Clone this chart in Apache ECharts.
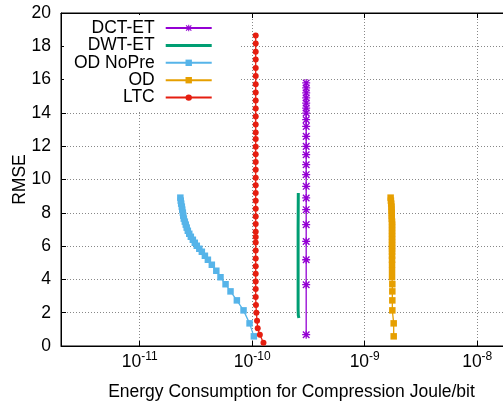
<!DOCTYPE html>
<html>
<head>
<meta charset="utf-8">
<script src="https://cdn.jsdelivr.net/npm/echarts@6/dist/echarts.min.js"></script>
<style>
  html, body { margin: 0; padding: 0; background: #fff; }
  #chart { width: 503px; height: 405px; }
</style>
</head>
<body>
<div id="chart"></div>
<script>
// Energy (Joule/bit) vs. RMSE for each compression scheme
const seriesNames = ['DCT-ET', 'DWT-ET', 'OD NoPre', 'OD', 'LTC'];

const dctEnergy = [3.02e-10, 3.02e-10, 3.02e-10, 3.02e-10, 3.02e-10, 3.02e-10, 3.02e-10, 3.02e-10,
  3.02e-10, 3.02e-10, 3.02e-10, 3.02e-10, 3.02e-10, 3.02e-10, 3.02e-10, 3.02e-10, 3.02e-10,
  3.02e-10, 3.02e-10, 3.02e-10, 3.02e-10, 3.02e-10];
const dctRmse = [15.80, 15.50, 15.20, 14.90, 14.59, 14.29, 13.99, 13.59, 13.19, 12.59, 11.99,
  11.49, 10.89, 10.29, 9.59, 8.89, 8.19, 7.29, 6.28, 5.18, 3.68, 0.68];

const dwtEnergy = [2.57e-10, 2.56e-10, 2.56e-10, 2.56e-10, 2.57e-10, 2.60e-10];
const dwtRmse = [9.19, 7.00, 4.50, 2.20, 1.85, 1.68];

const noPreEnergy = [2.30e-11, 2.32e-11, 2.34e-11, 2.37e-11, 2.39e-11, 2.42e-11, 2.44e-11, 2.47e-11,
  2.52e-11, 2.57e-11, 2.62e-11, 2.68e-11, 2.76e-11, 2.85e-11, 2.97e-11, 3.09e-11, 3.22e-11,
  3.39e-11, 3.57e-11, 3.80e-11, 4.04e-11, 4.38e-11, 4.80e-11, 5.23e-11, 5.80e-11, 6.42e-11,
  7.31e-11, 8.38e-11, 9.48e-11, 1.035e-10];
const noPreRmse = [8.91, 8.73, 8.55, 8.37, 8.19, 8.01, 7.83, 7.65, 7.47, 7.29, 7.11, 6.92, 6.74,
  6.56, 6.38, 6.20, 6.02, 5.84, 5.66, 5.42, 5.18, 4.88, 4.52, 4.13, 3.71, 3.28, 2.74, 2.14,
  1.36, 0.58];

const odEnergy = [1.70e-9, 1.71e-9, 1.72e-9, 1.73e-9, 1.73e-9, 1.74e-9, 1.74e-9, 1.74e-9, 1.75e-9,
  1.75e-9, 1.75e-9, 1.75e-9, 1.75e-9, 1.75e-9, 1.75e-9, 1.75e-9, 1.75e-9, 1.75e-9, 1.75e-9,
  1.75e-9, 1.75e-9, 1.75e-9, 1.75e-9, 1.75e-9, 1.76e-9, 1.76e-9, 1.76e-9, 1.76e-9, 1.81e-9,
  1.81e-9];
const odRmse = [8.91, 8.73, 8.55, 8.37, 8.19, 8.01, 7.83, 7.65, 7.47, 7.29, 7.11, 6.92, 6.74,
  6.56, 6.38, 6.20, 6.02, 5.84, 5.66, 5.42, 5.18, 4.88, 4.52, 4.13, 3.71, 3.28, 2.74, 2.14,
  1.36, 0.58];

const ltcEnergy = [1.075e-10, 1.075e-10, 1.075e-10, 1.075e-10, 1.075e-10, 1.075e-10, 1.075e-10,
  1.075e-10, 1.075e-10, 1.075e-10, 1.075e-10, 1.075e-10, 1.075e-10, 1.075e-10, 1.075e-10,
  1.075e-10, 1.075e-10, 1.075e-10, 1.075e-10, 1.075e-10, 1.075e-10, 1.075e-10, 1.075e-10,
  1.075e-10, 1.075e-10, 1.075e-10, 1.075e-10, 1.075e-10, 1.075e-10, 1.075e-10, 1.075e-10,
  1.075e-10, 1.075e-10, 1.075e-10, 1.075e-10, 1.08e-10, 1.09e-10, 1.105e-10, 1.12e-10,
  1.17e-10, 1.26e-10];
const ltcRmse = [18.65, 18.17, 17.68, 17.20, 16.70, 16.22, 15.72, 15.22, 14.74, 14.26, 13.78,
  13.30, 12.83, 12.43, 11.97, 11.51, 11.05, 10.59, 10.11, 9.65, 9.19, 8.73, 8.25, 7.78, 7.33,
  6.86, 6.54, 6.22, 5.74, 5.26, 4.79, 4.34, 3.88, 3.42, 2.94, 2.46, 2.00, 1.52, 1.06, 0.68,
  0.20];

const yTicks = [0, 2, 4, 6, 8, 10, 12, 14, 16, 18, 20];
const xRange = [2e-12, 2.5e-8];

const colors = {
  'DCT-ET': '#9400d3',
  'DWT-ET': '#009e73',
  'OD NoPre': '#56b4e9',
  'OD': '#e69f00',
  'LTC': '#e51e10'
};

// asterisk marker: plus overlaid with a cross
const asterisk = 'path://M4.2 0L5.8 0L5.8 10L4.2 10Z M0 4.2L10 4.2L10 5.8L0 5.8Z ' +
  'M0.3 1.5L1.5 0.3L9.7 8.5L8.5 9.7Z M8.5 0.3L9.7 1.5L1.5 9.7L0.3 8.5Z';
// plain thick stroke for the marker-less series key
const thickBar = 'path://M0 0L46 0L46 3L0 3Z';

function pairs(xs, ys) {
  return xs.map((x, i) => [x, ys[i]]);
}

const FONT = 'Liberation Sans, Arial, sans-serif';
const FS = 17.5;

function expLabel(v) {
  const lg = Math.log10(v);
  const e = Math.round(lg);
  if (Math.abs(lg - e) > 1e-6) return '';
  return '{b|10}{s|' + e + '}';
}

const chart = echarts.init(document.getElementById('chart'), null, { renderer: 'canvas' });

chart.setOption({
  animation: false,
  backgroundColor: '#ffffff',
  textStyle: { fontFamily: FONT },
  grid: {
    left: 61, width: 461, top: 13, bottom: 59,
    containLabel: false,
    outerBoundsMode: 'none',
    show: true, borderColor: '#000', borderWidth: 1, backgroundColor: 'transparent'
  },
  legend: {
    orient: 'vertical',
    align: 'right',
    left: 64,
    top: 15,
    padding: [4, 27, 4, 10],
    backgroundColor: '#ffffff',
    itemWidth: 46,
    itemHeight: 8,
    itemGap: -0.6,
    data: [
      { name: 'DCT-ET' },
      { name: 'DWT-ET', icon: thickBar },
      { name: 'OD NoPre' },
      { name: 'OD' },
      { name: 'LTC' }
    ],
    textStyle: { fontSize: FS, color: '#000', fontFamily: FONT, padding: [0, 6, 0, 0] }
  },
  xAxis: [{
    type: 'log',
    logBase: 10,
    min: xRange[0],
    max: xRange[1],
    name: 'Energy Consumption for Compression Joule/bit',
    nameLocation: 'middle',
    nameGap: 37,
    nameMoveOverlap: false,
    nameTextStyle: { fontSize: FS, color: '#000', fontFamily: FONT },
    axisLine: { show: true, lineStyle: { color: '#000', width: 1 } },
    axisTick: { show: true, inside: true, length: 5, lineStyle: { color: '#000' } },
    minorTick: { show: false },
    axisLabel: {
      showMinLabel: false,
      showMaxLabel: false,
      margin: 5,
      color: '#000',
      formatter: expLabel,
      rich: {
        b: { fontSize: FS, color: '#000', fontFamily: FONT },
        s: { fontSize: 12, color: '#000', fontFamily: FONT, padding: [0, 0, 10, 0] }
      }
    },
    splitLine: { show: true, lineStyle: { color: '#888', type: [1, 2], width: 1 } }
  }, {
    type: 'log',
    logBase: 10,
    min: xRange[0],
    max: xRange[1],
    position: 'top',
    axisLine: { show: true, lineStyle: { color: '#000', width: 1 } },
    axisTick: { show: true, inside: true, length: 5, lineStyle: { color: '#000' } },
    axisLabel: { show: false },
    splitLine: { show: false }
  }],
  yAxis: {
    type: 'value',
    min: yTicks[0],
    max: yTicks[yTicks.length - 1],
    interval: 2,
    name: 'RMSE',
    nameLocation: 'middle',
    nameGap: 32,
    nameMoveOverlap: false,
    nameTextStyle: { fontSize: FS, color: '#000', fontFamily: FONT },
    axisLine: { show: true, lineStyle: { color: '#000', width: 1 } },
    axisTick: { show: true, inside: true, length: 5, lineStyle: { color: '#000' } },
    axisLabel: { fontSize: FS, color: '#000', margin: 10, fontFamily: FONT },
    splitLine: { show: true, lineStyle: { color: '#888', type: [1, 2], width: 1 } }
  },
  series: [
    {
      name: 'DCT-ET', type: 'line', xAxisIndex: 0,
      data: pairs(dctEnergy, dctRmse),
      symbol: asterisk, symbolSize: 8, showAllSymbol: true,
      lineStyle: { color: colors['DCT-ET'], width: 1.3 },
      itemStyle: { color: colors['DCT-ET'] }
    },
    {
      name: 'DWT-ET', type: 'line', xAxisIndex: 0,
      data: pairs(dwtEnergy, dwtRmse),
      symbol: 'none',
      lineStyle: { color: colors['DWT-ET'], width: 3 },
      itemStyle: { color: colors['DWT-ET'] }
    },
    {
      name: 'OD NoPre', type: 'line', xAxisIndex: 0,
      data: pairs(noPreEnergy, noPreRmse),
      symbol: 'rect', symbolSize: 6.5, showAllSymbol: true,
      lineStyle: { color: colors['OD NoPre'], width: 1.3 },
      itemStyle: { color: colors['OD NoPre'] }
    },
    {
      name: 'OD', type: 'line', xAxisIndex: 0,
      data: pairs(odEnergy, odRmse),
      symbol: 'rect', symbolSize: 6.5, showAllSymbol: true,
      lineStyle: { color: colors['OD'], width: 1.3 },
      itemStyle: { color: colors['OD'] }
    },
    {
      name: 'LTC', type: 'line', xAxisIndex: 0,
      data: pairs(ltcEnergy, ltcRmse),
      symbol: 'circle', symbolSize: 6, showAllSymbol: true,
      lineStyle: { color: colors['LTC'], width: 1.3 },
      itemStyle: { color: colors['LTC'] }
    }
  ]
});
</script>
</body>
</html>
